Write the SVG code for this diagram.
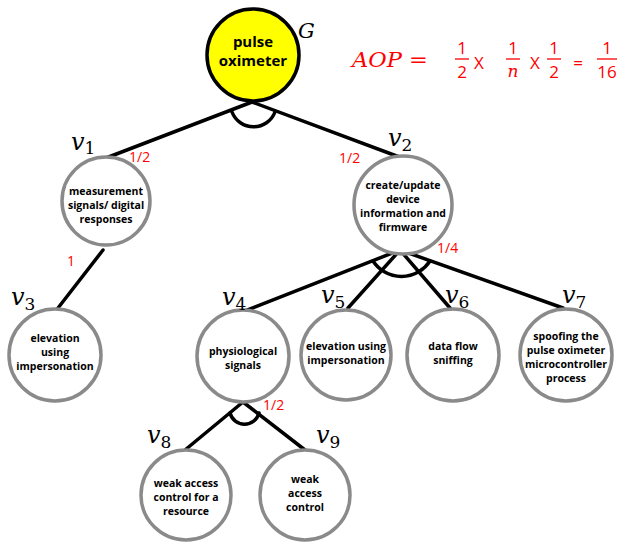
<svg xmlns="http://www.w3.org/2000/svg" width="619" height="542" viewBox="0 0 619 542">
<style>
.node{fill:#fff;stroke:#8a8a8a;stroke-width:3.5}
.root{fill:#ffff00;stroke:#000;stroke-width:3.5}
.edge{stroke:#000;stroke-width:3.5;fill:none;stroke-linecap:round}
.t{font-family:"Open Sans","Noto Sans",sans-serif;font-weight:700;font-size:10.5px;fill:#000;text-anchor:middle}
.rt{font-family:"Open Sans","Noto Sans",sans-serif;font-weight:700;font-size:15px;fill:#000;text-anchor:middle}
.lab{font-family:"DejaVu Serif","Liberation Serif",serif;font-style:italic;font-size:24px;fill:#000}
.sub{font-size:17px;font-style:normal}
.red{font-family:"Open Sans","Noto Sans",sans-serif;font-size:14px;fill:#ff0000}
.eq{font-family:"DejaVu Serif","Liberation Serif",serif;font-style:italic;font-size:21px;fill:#ff0000}
.fr{font-family:"Open Sans","Noto Sans",sans-serif;font-size:17px;fill:#ff0000;text-anchor:middle}
.fi{font-family:"DejaVu Serif","Liberation Serif",serif;font-style:italic;font-size:17px;fill:#ff0000;text-anchor:middle}
</style>
<g id="connectors">
<path class="edge" d="M252,102 L106,158"/>
<path class="edge" d="M252,102 L402,158"/>
<path class="edge" d="M232,112 A23 23 0 0 0 275,112"/>
<path class="edge" d="M103,250 L58,308"/>
<path class="edge" d="M400,250 L245,311"/>
<path class="edge" d="M400,250 L348,308"/>
<path class="edge" d="M400,250 L450,308"/>
<path class="edge" d="M400,250 L563,308"/>
<path class="edge" d="M373,261 A34 34 0 0 0 430,261"/>
<path class="edge" d="M243,402 L185,450"/>
<path class="edge" d="M243,402 L305,450"/>
<path class="edge" d="M230,413 A15 15 0 0 0 259,413"/>
</g>
<g id="G">
<circle class="root" cx="253" cy="55" r="46"/>
<text class="rt" x="253" y="47">pulse</text>
<text class="rt" x="253" y="66">oximeter</text>
<text class="lab" x="298" y="38" style="font-size:21px">G</text>
</g>
<g id="v1">
<circle class="node" cx="106" cy="201" r="44"/>
<text class="t" x="106" y="195">measurement</text>
<text class="t" x="106" y="209">signals/ digital</text>
<text class="t" x="106" y="223">responses</text>
<text class="lab" x="71" y="150">v<tspan class="sub" dy="4">1</tspan></text>
</g>
<g id="v2">
<circle class="node" cx="403" cy="205" r="49"/>
<text class="t" x="403" y="189">create/update</text>
<text class="t" x="403" y="203">device</text>
<text class="t" x="403" y="217">information and</text>
<text class="t" x="403" y="231">firmware</text>
<text class="lab" x="388" y="146">v<tspan class="sub" dy="5">2</tspan></text>
</g>
<g id="v3">
<circle class="node" cx="55" cy="355" r="46"/>
<text class="t" x="55" y="342">elevation</text>
<text class="t" x="55" y="356">using</text>
<text class="t" x="55" y="370">impersonation</text>
<text class="lab" x="11" y="305">v<tspan class="sub" dy="5">3</tspan></text>
</g>
<g id="v4">
<circle class="node" cx="243" cy="356" r="46"/>
<text class="t" x="243" y="355">physiological</text>
<text class="t" x="243" y="369">signals</text>
<text class="lab" x="222" y="305">v<tspan class="sub" dy="5">4</tspan></text>
</g>
<g id="v5">
<circle class="node" cx="346" cy="355" r="45"/>
<text class="t" x="346" y="350">elevation using</text>
<text class="t" x="346" y="364">impersonation</text>
<text class="lab" x="321" y="303">v<tspan class="sub" dy="5">5</tspan></text>
</g>
<g id="v6">
<circle class="node" cx="453" cy="355" r="46"/>
<text class="t" x="453" y="350">data flow</text>
<text class="t" x="453" y="364">sniffing</text>
<text class="lab" x="445" y="303">v<tspan class="sub" dy="5">6</tspan></text>
</g>
<g id="v7">
<circle class="node" cx="566" cy="355" r="46"/>
<text class="t" x="566" y="340">spoofing the</text>
<text class="t" x="566" y="354">pulse oximeter</text>
<text class="t" x="566" y="368">microcontroller</text>
<text class="t" x="566" y="382">process</text>
<text class="lab" x="562" y="303">v<tspan class="sub" dy="5">7</tspan></text>
</g>
<g id="v8">
<circle class="node" cx="186" cy="495" r="45"/>
<text class="t" x="186" y="487">weak access</text>
<text class="t" x="186" y="501">control for a</text>
<text class="t" x="186" y="515">resource</text>
<text class="lab" x="147" y="443">v<tspan class="sub" dy="5">8</tspan></text>
</g>
<g id="v9">
<circle class="node" cx="305" cy="495" r="45"/>
<text class="t" x="305" y="483">weak</text>
<text class="t" x="305" y="497">access</text>
<text class="t" x="305" y="511">control</text>
<text class="lab" x="316" y="443">v<tspan class="sub" dy="5">9</tspan></text>
</g>
<g id="probabilities">
<text class="red" x="129" y="162">1/2</text>
<text class="red" x="339" y="163">1/2</text>
<text class="red" x="67" y="266">1</text>
<text class="red" x="437" y="253">1/4</text>
<text class="red" x="263" y="410">1/2</text>
</g>
<g id="equation">
<text class="eq" x="352" y="67" textLength="76" lengthAdjust="spacingAndGlyphs">AOP =</text>
<text class="fr" x="462" y="54">1</text>
<line x1="455" y1="59" x2="469" y2="59" stroke="#ff0000" stroke-width="1.3"/>
<text class="fr" x="462" y="78">2</text>
<text class="fr" x="479" y="69">X</text>
<text class="fr" x="513" y="54">1</text>
<line x1="506" y1="59" x2="520" y2="59" stroke="#ff0000" stroke-width="1.3"/>
<text class="fi" x="513" y="77">n</text>
<text class="fr" x="535" y="69">X</text>
<text class="fr" x="554" y="54">1</text>
<line x1="547" y1="59" x2="561" y2="59" stroke="#ff0000" stroke-width="1.3"/>
<text class="fr" x="554" y="78">2</text>
<text class="fr" x="578" y="69">=</text>
<text class="fr" x="607" y="54">1</text>
<line x1="597" y1="59" x2="617" y2="59" stroke="#ff0000" stroke-width="1.3"/>
<text class="fr" x="607" y="78">16</text>
</g>
</svg>
